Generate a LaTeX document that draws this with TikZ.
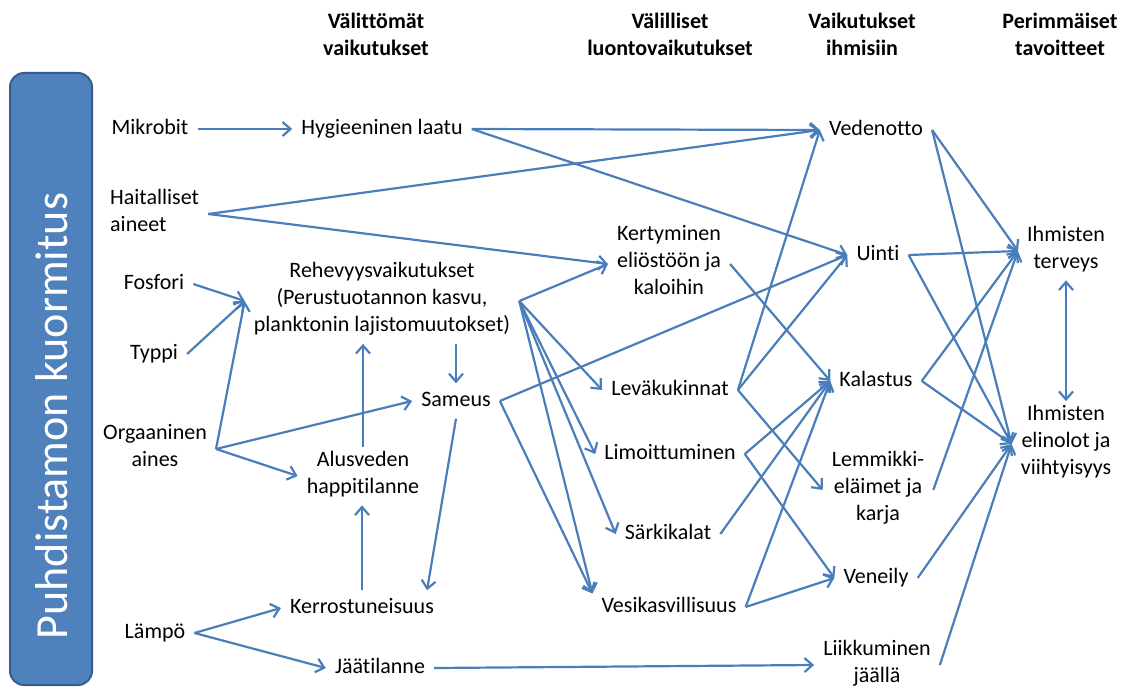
\documentclass[tikz,border=0pt]{standalone}
\usepackage{fontspec}
\setmainfont{Carlito}[Ligatures=NoCommon]
\usetikzlibrary{arrows.meta,calc}
\definecolor{lineblue}{HTML}{4A7EBB}
\definecolor{boxfill}{HTML}{4F81BD}
\definecolor{boxedge}{HTML}{385D8A}

\begin{document}
\begin{tikzpicture}[x=1pt,y=-1pt,
  lbl/.style={font=\fontsize{22}{27}\selectfont, align=center,
    inner xsep=9pt, inner ysep=4pt,
    execute at begin node=\strut, execute at end node=\strut},
  hdr/.style={lbl, font=\fontsize{22}{27}\selectfont\bfseries},
  arr/.style={draw=lineblue, line width=2.2pt,
    -{Straight Barb[length=8pt,width=14pt]}},
  dblarr/.style={draw=lineblue, line width=2.2pt,
    {Straight Barb[length=8pt,width=14pt]}-{Straight Barb[length=8pt,width=14pt]}}
]
\useasboundingbox (0,0) rectangle (1131,690);

% load column
\node[draw=boxedge, fill=boxfill, line width=2pt, rounded corners=14pt,
      minimum width=82pt, minimum height=612pt, inner sep=0pt] (load) at (51,379) {};
\node[rotate=90, text=white, font=\fontsize{46}{55}\selectfont, inner sep=0pt]
      (loadtxt) at (52,416) {Puhdistamon kuormitus};

% column headings
\node[hdr] (h1) at (376,38) {Välittömät\\vaikutukset};
\node[hdr] (h2) at (670,38) {Välilliset\\luontovaikutukset};
\node[hdr] (h3) at (862,38) {Vaikutukset\\ihmisiin};
\node[hdr] (h4) at (1060,38) {Perimmäiset\\tavoitteet};

% sources
\node[lbl] (mik) at (150,129) {Mikrobit};
\node[lbl, align=left, anchor=west] (hai) at (101,214) {Haitalliset\\aineet};
\node[lbl] (fos) at (154,284) {Fosfori};
\node[lbl] (typ) at (154,354) {Typpi};
\node[lbl] (org) at (155,449) {Orgaaninen\\aines};
\node[lbl] (lam) at (155,633) {Lämpö};

% direct effects
\node[lbl] (hyg) at (382,129) {Hygieeninen laatu};
\node[lbl] (reh) at (382,301) {Rehevyysvaikutukset\\(Perustuotannon kasvu,\\planktonin lajistomuutokset)};
\node[lbl] (sam) at (456,401) {Sameus};
\node[lbl] (alu) at (363,476) {Alusveden\\happitilanne};
\node[lbl] (ker) at (362,608) {Kerrostuneisuus};
\node[lbl] (jaa) at (380,668) {Jäätilanne};

% indirect effects on nature
\node[lbl] (kert) at (669,264) {Kertyminen\\eliöstöön ja\\kaloihin};
\node[lbl] (lev) at (670,390) {Leväkukinnat};
\node[lbl] (lim) at (670,454) {Limoittuminen};
\node[lbl] (sar) at (668,534) {Särkikalat};
\node[lbl] (ves) at (669,607) {Vesikasvillisuus};

% effects on people
\node[lbl] (ved) at (876,130) {Vedenotto};
\node[lbl] (uin) at (878,255) {Uinti};
\node[lbl] (kal) at (876,381) {Kalastus};
\node[lbl] (lem) at (878,490) {Lemmikki-\\eläimet ja\\karja};
\node[lbl] (ven) at (876,578) {Veneily};
\node[lbl] (lii) at (877,665) {Liikkuminen\\jäällä};

% ultimate goals
\node[lbl] (ter) at (1066,251) {Ihmisten\\terveys};
\node[lbl] (eli) at (1066,444) {Ihmisten\\elinolot ja\\viihtyisyys};

% sources -> direct effects
\draw[arr] (mik.east) -- (hyg.west);
\draw[arr] (hai.east) -- (ved.west);
\draw[arr] (hai.east) -- (kert.west);
\draw[arr] (fos.east) -- (reh.west);
\draw[arr] (typ.east) -- (reh.west);
\draw[arr] (org.east) -- (reh.west);
\draw[arr] (org.east) -- (sam.west);
\draw[arr] (org.east) -- (alu.west);
\draw[arr] (lam.east) -- (ker.west);
\draw[arr] (lam.east) -- (jaa.west);

% among direct effects
\draw[arr] (alu.north) -- (alu.north |- reh.south);
\draw[arr] (sam.north |- reh.south) -- (sam.north);
\draw[arr] (sam.south) -- ($(ker.north)+(65,0)$);
\draw[arr] (ker.north) -- (ker.north |- alu.south);

% direct effects -> further effects
\draw[arr] (hyg.east) -- (ved.west);
\draw[arr] (hyg.east) -- (uin.west);
\draw[arr] (sam.east) -- (uin.west);
\draw[arr] (sam.east) -- (ves.170);
\draw[arr] (reh.east) -- (kert.west);
\draw[arr] (reh.east) -- (lev.west);
\draw[arr] (reh.east) -- (lim.west);
\draw[arr] (reh.east) -- (sar.west);
\draw[arr] (reh.east) -- (ves.170);
\draw[arr] (jaa.east) -- (lii.west);

% nature -> people
\draw[arr] (kert.east) -- (kal.west);
\draw[arr] (lev.east) -- (ved.west);
\draw[arr] (lev.east) -- (uin.west);
\draw[arr] (lev.east) -- (lem.west);
\draw[arr] (lim.east) -- (kal.west);
\draw[arr] (lim.east) -- (ven.west);
\draw[arr] (sar.east) -- (kal.west);
\draw[arr] (ves.east) -- (kal.west);
\draw[arr] (ves.east) -- (ven.west);

% people -> goals
\draw[arr] (ved.east) -- (ter.west);
\draw[arr] (ved.east) -- (eli.west);
\draw[arr] (uin.east) -- (ter.west);
\draw[arr] (uin.east) -- (eli.west);
\draw[arr] (kal.east) -- (ter.west);
\draw[arr] (kal.east) -- (eli.west);
\draw[arr] (lem.east) -- (ter.west);
\draw[arr] (ven.east) -- (eli.west);
\draw[arr] (lii.east) -- (eli.west);
\draw[dblarr] (ter.south) -- (eli.north);
\end{tikzpicture}
\end{document}
